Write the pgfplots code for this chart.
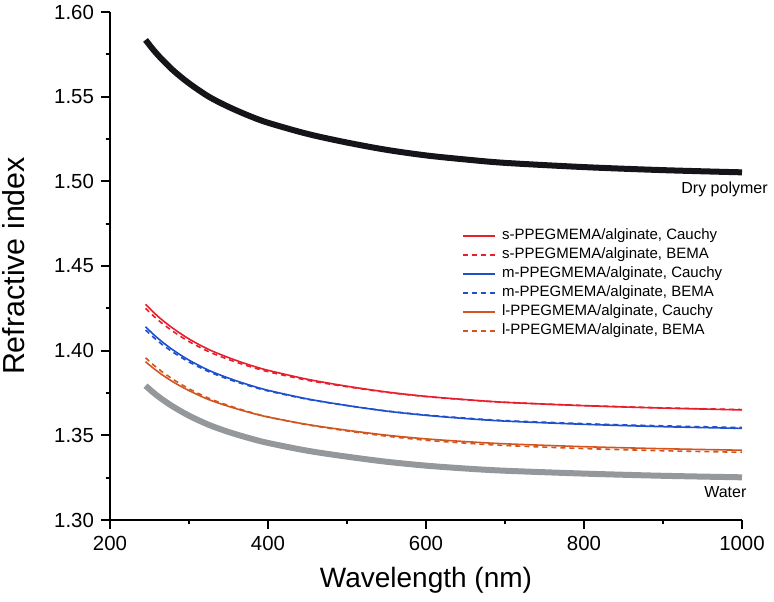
\documentclass[border=0pt]{standalone}
\usepackage{pgfplots}
\pgfplotsset{compat=1.18}
\usepackage{fontspec}
\setmainfont{Liberation Sans}
\definecolor{cred}{RGB}{232,30,45}
\definecolor{cblue}{RGB}{30,80,205}
\definecolor{corange}{RGB}{210,85,30}
\definecolor{cgray}{RGB}{148,152,155}
\definecolor{cblack}{RGB}{20,20,25}
\begin{document}
\begin{tikzpicture}
\begin{axis}[
  name=ax,
  scale only axis,
  width=316pt, height=254pt,
  xmin=200, xmax=1000, ymin=1.30, ymax=1.60,
  axis x line*=bottom, axis y line*=left,
  axis line style={line width=1pt},
  xtick={200,400,600,800,1000},
  ytick={1.30,1.35,1.40,1.45,1.50,1.55,1.60},
  minor x tick num=1, minor y tick num=1,
  tick align=outside,
  major tick length=4.5pt, minor tick length=2.2pt,
  every tick/.style={line width=1pt, black},
  xticklabel style={/pgf/number format/1000 sep={}},
  yticklabel style={/pgf/number format/fixed, /pgf/number format/fixed zerofill, /pgf/number format/precision=2},
  /pgf/number format/assume math mode=true,
  tick label style={font=\fontsize{10.2}{12}\selectfont},
  xlabel={Wavelength (nm)}, ylabel={Refractive index},
  x label style={at={(axis description cs:0.5,-0.118)}, anchor=center, font=\fontsize{14}{16}\selectfont},
  y label style={at={(axis description cs:-0.152,0.5)}, anchor=center, font=\fontsize{15.2}{17}\selectfont},
  clip=false,
  legend cell align=left,
  legend image code/.code={\draw[#1, line width=1pt] (0pt,0pt) -- (15.8pt,0pt);},
  legend style={at={(rel axis cs:0.5565,0.5780)}, anchor=north west, draw=none, fill=none,
    inner sep=0pt, font=\fontsize{7.5}{9}\selectfont, row sep=0.5pt,
    nodes={inner sep=0.6pt, text height=6pt, text depth=1.8pt},
    /tikz/every odd column/.append style={column sep=2.6pt}},
]
\addplot[color=cred, line width=0.8pt, smooth, solid] coordinates {
(245,1.4274)(255,1.4227)(265,1.4185)(280,1.4131)(300,1.4069)(325,1.4007)(350,1.3959)(375,1.3918)(400,1.3884)(450,1.3831)(500,1.3790)(550,1.3756)(600,1.3730)(650,1.3711)(700,1.3695)(800,1.3675)(900,1.3661)(1000,1.3650)};
\addlegendentry{s-PPEGMEMA/alginate, Cauchy}
\addplot[color=cred, line width=0.8pt, smooth, dash pattern=on 2.5pt off 2pt] coordinates {
(245,1.4250)(255,1.4205)(265,1.4165)(280,1.4113)(300,1.4054)(325,1.3994)(350,1.3948)(375,1.3909)(400,1.3876)(450,1.3825)(500,1.3787)(550,1.3754)(600,1.3729)(650,1.3710)(700,1.3695)(800,1.3676)(900,1.3662)(1000,1.3652)};
\addlegendentry{s-PPEGMEMA/alginate, BEMA}
\addplot[color=cblue, line width=0.8pt, smooth, solid] coordinates {
(245,1.4141)(255,1.4096)(265,1.4056)(280,1.4003)(300,1.3944)(325,1.3884)(350,1.3838)(375,1.3799)(400,1.3766)(450,1.3715)(500,1.3676)(550,1.3643)(600,1.3618)(650,1.3599)(700,1.3584)(800,1.3565)(900,1.3551)(1000,1.3541)};
\addlegendentry{m-PPEGMEMA/alginate, Cauchy}
\addplot[color=cblue, line width=0.8pt, smooth, dash pattern=on 2.5pt off 2pt] coordinates {
(245,1.4122)(255,1.4079)(265,1.4040)(280,1.3990)(300,1.3933)(325,1.3876)(350,1.3831)(375,1.3794)(400,1.3762)(450,1.3713)(500,1.3676)(550,1.3644)(600,1.3620)(650,1.3602)(700,1.3587)(800,1.3569)(900,1.3556)(1000,1.3546)};
\addlegendentry{m-PPEGMEMA/alginate, BEMA}
\addplot[color=corange, line width=0.8pt, smooth, solid] coordinates {
(245,1.3935)(255,1.3896)(265,1.3861)(280,1.3815)(300,1.3764)(325,1.3711)(350,1.3671)(375,1.3637)(400,1.3608)(450,1.3564)(500,1.3530)(550,1.3501)(600,1.3479)(650,1.3463)(700,1.3450)(800,1.3433)(900,1.3421)(1000,1.3412)};
\addlegendentry{l-PPEGMEMA/alginate, Cauchy}
\addplot[color=corange, line width=0.8pt, smooth, dash pattern=on 2.5pt off 2pt] coordinates {
(245,1.3958)(255,1.3916)(265,1.3879)(280,1.3830)(300,1.3775)(325,1.3719)(350,1.3676)(375,1.3640)(400,1.3609)(450,1.3562)(500,1.3526)(550,1.3495)(600,1.3471)(650,1.3454)(700,1.3440)(800,1.3422)(900,1.3409)(1000,1.3400)};
\addlegendentry{l-PPEGMEMA/alginate, BEMA}
\addplot[color=cblack, line width=3pt, smooth, forget plot] coordinates {
(245,1.5835)(255,1.5776)(265,1.5724)(280,1.5655)(300,1.5579)(325,1.5500)(350,1.5440)(375,1.5389)(400,1.5346)(450,1.5280)(500,1.5229)(550,1.5186)(600,1.5153)(650,1.5129)(700,1.5109)(800,1.5084)(900,1.5066)(1000,1.5053)};
\addplot[color=cgray, line width=3pt, smooth, forget plot] coordinates {
(245,1.3793)(255,1.3752)(265,1.3716)(280,1.3669)(300,1.3616)(325,1.3562)(350,1.3520)(375,1.3485)(400,1.3455)(450,1.3409)(500,1.3374)(550,1.3344)(600,1.3321)(650,1.3304)(700,1.3291)(800,1.3274)(900,1.3261)(1000,1.3252)};
\node[anchor=east, inner sep=0pt, font=\fontsize{8}{10}\selectfont] at (axis cs:1033,1.4955) {Dry polymer};
\node[anchor=east, inner sep=0pt, font=\fontsize{8}{10}\selectfont] at (axis cs:1006,1.3165) {Water};
\end{axis}
\pgfresetboundingbox
\path ([xshift=-55pt,yshift=-41pt]ax.south west) rectangle ([xshift=16pt,yshift=6pt]ax.north east);
\end{tikzpicture}
\end{document}
